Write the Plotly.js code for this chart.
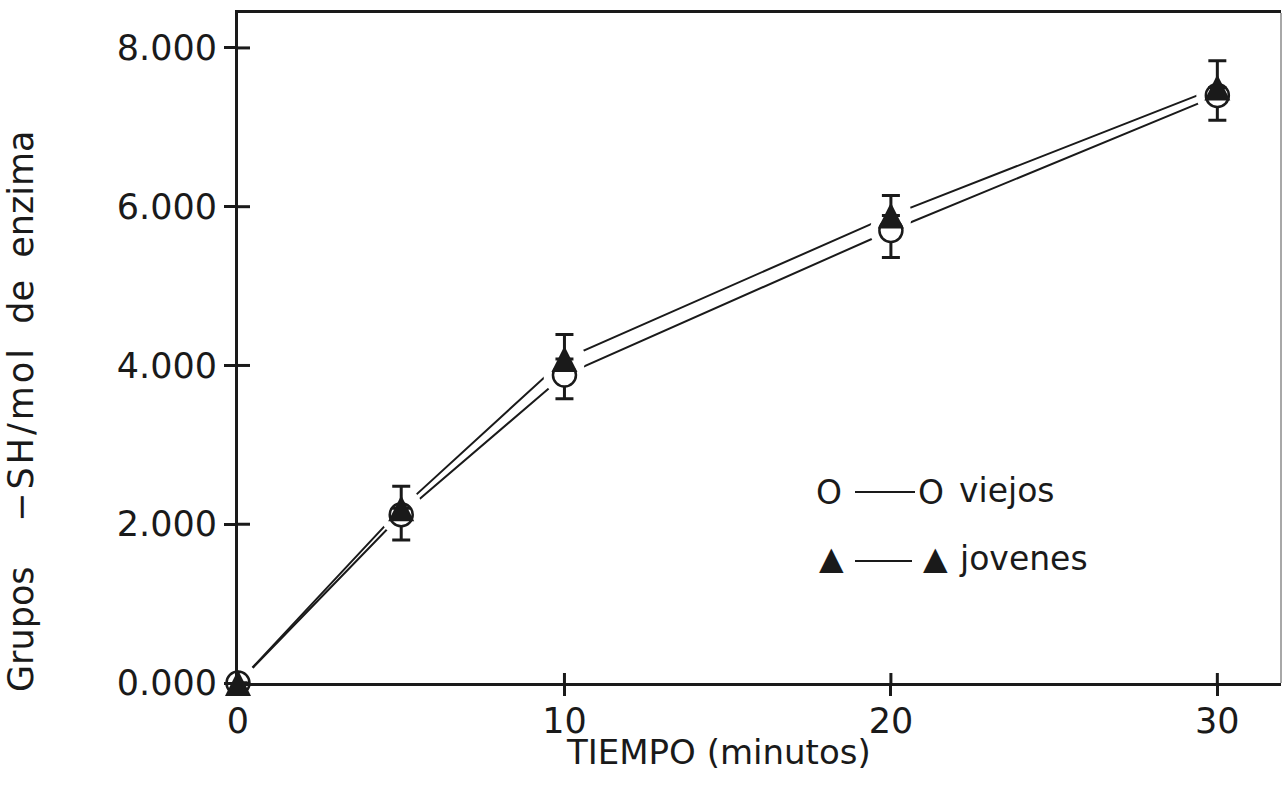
<!DOCTYPE html>
<html>
<head>
<meta charset="utf-8">
<script src="https://cdn.plot.ly/plotly-3.0.1.min.js"></script>
<style>
  html, body { margin: 0; padding: 0; background: #fff; }
  #chart { width: 1282px; height: 794px; }
</style>
</head>
<body>
<div id="chart"></div>
<script>
// Tiempo de reacción (minutos)
const tiempo = [0, 5, 10, 20, 30];

// Grupos -SH por mol de enzima
const viejos = [0, 2.12, 3.88, 5.70, 7.40];
const viejosErrMenos = [0, 0.32, 0.30, 0.34, 0.31];
const jovenes = [0, 2.20, 4.08, 5.89, 7.50];
const jovenesErrMas = [0, 0.28, 0.31, 0.25, 0.34];

const nombres = ['viejos', 'jovenes'];
const xTicks = [0, 10, 20, 30];
const yTicks = [0, 2, 4, 6, 8];

const FONT = 'DejaVu Sans';
const INK = '#1a1a1a';

const xRange = [0, 31.95];
const yRange = [0, 8.44];

// plot-area geometry (pixels) used to place the hand-drawn key and titles
const M = { l: 238, r: 1, t: 13, b: 111 };
const W = 1282, H = 794;
const pw = W - M.l - M.r, ph = H - M.t - M.b;
const px = v => (v - M.l) / pw;
const py = v => (H - M.b - v) / ph;

const zeros = tiempo.map(() => 0);
const TRI = 26;   // triangle symbol size (px)
const NB = '\u00a0';

const traces = [
  // connecting lines
  { x: tiempo, y: viejos, mode: 'lines', line: { color: INK, width: 2 },
    hoverinfo: 'skip', showlegend: false, cliponaxis: false },
  { x: tiempo, y: jovenes, mode: 'lines', line: { color: INK, width: 2 },
    hoverinfo: 'skip', showlegend: false, cliponaxis: false },
  // white halos so the lines stop short of the symbols
  { x: tiempo, y: viejos, mode: 'markers',
    marker: { symbol: 'circle', size: 42, color: 'white', opacity: 1, line: { width: 0 } },
    hoverinfo: 'skip', showlegend: false, cliponaxis: false },
  { x: tiempo, y: jovenes, mode: 'markers',
    marker: { symbol: 'circle', size: 42, color: 'white', opacity: 1, line: { width: 0 } },
    hoverinfo: 'skip', showlegend: false, cliponaxis: false },
  // viejos: open circles, error bar downward
  { x: tiempo, y: viejos, name: nombres[0], mode: 'markers',
    marker: { symbol: 'circle', size: 23, color: 'white', line: { color: INK, width: 2.5 } },
    error_y: { type: 'data', symmetric: false, array: zeros, arrayminus: viejosErrMenos,
               color: INK, thickness: 3, width: 9 },
    showlegend: false, cliponaxis: false },
  // jovenes: filled triangles (apex up, centred on the value), error bar upward
  { x: tiempo, y: jovenes, name: nombres[1], mode: 'markers',
    marker: { symbol: 'arrow-down', angle: 180, standoff: TRI / 2, size: TRI, color: INK, line: { width: 0 } },
    error_y: { type: 'data', symmetric: false, array: jovenesErrMas, arrayminus: zeros,
               color: INK, thickness: 3, width: 9 },
    showlegend: false, cliponaxis: false }
];

const baseAxis = {
  showgrid: false, zeroline: false, fixedrange: true,
  tickcolor: INK, tickwidth: 3,
  tickfont: { family: FONT, size: 35, color: INK }
};

// inner halves of the tick marks, so each tick crosses its axis
const innerTicks = xTicks.map(v => ({
  type: 'line', xref: 'x', yref: 'y', ysizemode: 'pixel', yanchor: 0,
  x0: v, x1: v, y0: 0, y1: 10, layer: 'above', line: { color: INK, width: 3 }
})).concat(yTicks.map(v => ({
  type: 'line', yref: 'y', xref: 'x', xsizemode: 'pixel', xanchor: 0,
  y0: v, y1: v, x0: 0, x1: 12, layer: 'above', line: { color: INK, width: 3 }
})));

const keyFont = { family: FONT, size: 33, color: INK };
const key = (text, x, y, anchor, size) => ({
  text, xref: 'paper', yref: 'paper', x: px(x), y: py(y), xanchor: anchor, yanchor: 'middle',
  showarrow: false, font: Object.assign({}, keyFont, size ? { size } : {})
});

// the -SH/mol group is set a little wider, as in the plotter lettering
const yTitle = 'Grupos' + NB.repeat(4) +
               '<span style="letter-spacing:3px">\u2212SH/mol</span>' +
               NB.repeat(2) + 'de' + NB.repeat(2) + 'enzima';

const layout = {
  width: W, height: H,
  margin: M,
  paper_bgcolor: '#fff', plot_bgcolor: '#fff',
  showlegend: false,
  xaxis: Object.assign({}, baseAxis, {
    range: xRange, tickmode: 'array', tickvals: xTicks, ticktext: xTicks.map(String),
    ticks: 'outside', ticklen: 10, showline: true, linecolor: INK, linewidth: 3, mirror: true,
    ticklabelstandoff: -5
  }),
  yaxis: Object.assign({}, baseAxis, {
    range: yRange, tickmode: 'array', tickvals: yTicks, ticktext: yTicks.map(v => v.toFixed(3)),
    ticks: 'outside', ticklen: 11, showline: true, linecolor: INK, linewidth: 3,
    ticklabelstandoff: 0
  }),
  annotations: [
    { text: 'TIEMPO (minutos)', xref: 'paper', yref: 'paper', x: px(718), y: py(752),
      xanchor: 'center', yanchor: 'middle', showarrow: false,
      font: { family: FONT, size: 34, color: INK } },
    { text: yTitle, xref: 'paper', yref: 'paper',
      x: px(21), y: py(411), textangle: -90,
      xanchor: 'center', yanchor: 'middle', showarrow: false,
      font: { family: FONT, size: 35, color: INK } },
    // key
    key('O', 829, 492, 'center'),
    key('O', 931, 492, 'center'),
    key(nombres[0], 957, 490, 'left'),
    key('\u25B2', 831, 558, 'center', 32),
    key('\u25B2', 935, 558, 'center', 32),
    key(nombres[1], 957, 558, 'left')
  ],
  shapes: [
    // faint right-hand frame
    { type: 'line', xref: 'paper', yref: 'paper', x0: 1, x1: 1, y0: 0, y1: 1,
      line: { color: '#a8a8a8', width: 2 } },
    // key lines
    { type: 'line', xref: 'paper', yref: 'paper', x0: px(855), x1: px(915), y0: py(492), y1: py(492),
      line: { color: INK, width: 2 } },
    { type: 'line', xref: 'paper', yref: 'paper', x0: px(855), x1: px(912), y0: py(561), y1: py(561),
      line: { color: INK, width: 2 } }
  ].concat(innerTicks)
};

Plotly.newPlot('chart', traces, layout, { displayModeBar: false, staticPlot: true });
</script>
</body>
</html>
